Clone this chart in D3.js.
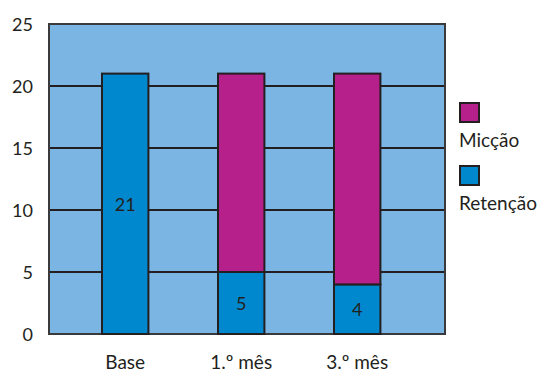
<!DOCTYPE html>
<html>
<head>
<meta charset="utf-8">
<script src="https://cdn.jsdelivr.net/npm/d3@7"></script>
<style>
  html, body { margin: 0; padding: 0; background: #fff; }
  svg { display: block; }
  text { font-family: Lato, "Open Sans", sans-serif; fill: #231f20; }
</style>
</head>
<body>
<svg id="chart" width="538" height="373"></svg>
<script>
// Categories, stacked series and tick labels
const categories = ["Base", "1.º mês", "3.º mês"];
const retencao = [21, 5, 4];
const miccao = [0, 16, 17];
const seriesNames = ["Micção", "Retenção"];
const yTicks = [0, 5, 10, 15, 20, 25];

const colors = { "Retenção": "#0088cf", "Micção": "#b5208a" };

const svg = d3.select("#chart");
const plot = { left: 49, right: 445, top: 24, bottom: 334 };

const y = d3.scaleLinear().domain([0, 25]).range([plot.bottom, plot.top]);
const x = d3.scaleBand().domain(categories)
  .range([67.2, 415.2]).paddingInner(0.6).paddingOuter(0.3);

// Plot background
svg.append("rect")
  .attr("x", plot.left).attr("y", plot.top)
  .attr("width", plot.right - plot.left).attr("height", plot.bottom - plot.top)
  .attr("fill", "#7ab5e3");

// Horizontal grid lines
svg.append("g").selectAll("line").data(yTicks.filter(t => t > 0 && t < 25)).join("line")
  .attr("x1", plot.left).attr("x2", plot.right)
  .attr("y1", d => y(d)).attr("y2", d => y(d))
  .attr("stroke", "#231f20").attr("stroke-width", 2);

// Plot frame
svg.append("rect")
  .attr("x", plot.left).attr("y", plot.top)
  .attr("width", plot.right - plot.left).attr("height", plot.bottom - plot.top)
  .attr("fill", "none").attr("stroke", "#3a3a3c").attr("stroke-width", 2);

// Stacked bars
const rows = categories.map((c, i) => ({ cat: c, "Retenção": retencao[i], "Micção": miccao[i] }));
const stack = d3.stack().keys(["Retenção", "Micção"])(rows);

const bars = svg.append("g");
stack.forEach(layer => {
  bars.selectAll(null).data(layer.filter(d => d[1] > d[0])).join("rect")
    .attr("x", d => x(d.data.cat))
    .attr("width", x.bandwidth())
    .attr("y", d => y(d[1]))
    .attr("height", d => y(d[0]) - y(d[1]))
    .attr("fill", colors[layer.key])
    .attr("stroke", "#231f20").attr("stroke-width", 2);
});

// Value labels inside the Retenção segments
svg.append("g").selectAll("text").data(rows).join("text")
  .attr("x", d => x(d.cat) + x.bandwidth() / 2)
  .attr("y", d => (y(0) + y(d["Retenção"])) / 2)
  .attr("text-anchor", "middle").attr("dominant-baseline", "central")
  .attr("font-size", 18)
  .text(d => d["Retenção"]);

// Y axis labels
svg.append("g").selectAll("text").data(yTicks).join("text")
  .attr("x", 33).attr("y", d => y(d))
  .attr("text-anchor", "end").attr("dominant-baseline", "central")
  .attr("font-size", 18)
  .text(d => d);

// X axis labels
svg.append("g").selectAll("text").data(categories).join("text")
  .attr("x", d => x(d) + x.bandwidth() / 2).attr("y", 369)
  .attr("text-anchor", "middle")
  .attr("font-size", 19)
  .text(d => d);

// Legend
const legend = svg.append("g");
seriesNames.forEach((name, i) => {
  const top = 103 + i * 63;
  legend.append("rect")
    .attr("x", 460).attr("y", top).attr("width", 19).attr("height", 19)
    .attr("fill", colors[name]).attr("stroke", "#231f20").attr("stroke-width", 2);
  legend.append("text")
    .attr("x", 459).attr("y", top + 44)
    .attr("font-size", 19)
    .text(name);
});
</script>
</body>
</html>
